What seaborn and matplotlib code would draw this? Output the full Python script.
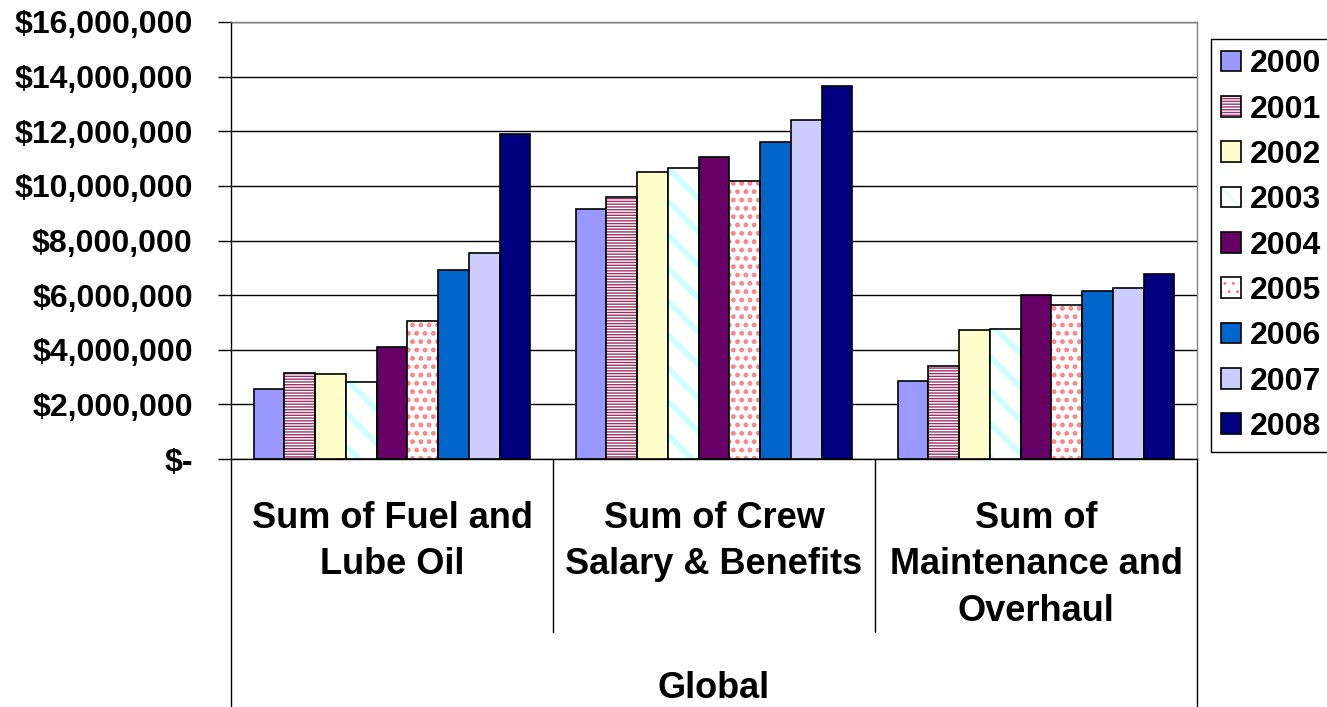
import matplotlib
matplotlib.use("Agg")
import matplotlib.pyplot as plt
import seaborn as sns
import pandas as pd
from matplotlib.ticker import FuncFormatter
from matplotlib.patches import Rectangle
from matplotlib.lines import Line2D
from matplotlib.legend_handler import HandlerTuple
from matplotlib import transforms

# ============================================================
#  Data
# ============================================================

categories = ["Sum of Fuel and\nLube Oil",
              "Sum of Crew\nSalary & Benefits",
              "Sum of\nMaintenance and\nOverhaul"]
outer_label = "Global"
years = ["2000", "2001", "2002", "2003", "2004", "2005", "2006", "2007", "2008"]

fuel_lube_oil = [2.55e6, 3.16e6, 3.11e6, 2.82e6, 4.11e6, 5.04e6, 6.92e6, 7.56e6, 11.90e6]
crew_salary = [9.17e6, 9.61e6, 10.49e6, 10.66e6, 11.05e6, 10.17e6, 11.61e6, 12.43e6, 13.66e6]
maintenance = [2.84e6, 3.39e6, 4.72e6, 4.77e6, 5.99e6, 5.65e6, 6.16e6, 6.27e6, 6.77e6]

y_ticks = [0, 2e6, 4e6, 6e6, 8e6, 10e6, 12e6, 14e6, 16e6]

# Excel-style fills: (colour, hatch) -- hatched fills draw the pattern colour on white
year_fills = [("#9999FF", None), ("#993366", "------"), ("#FFFFCC", None),
              ("#CCFFFF", "\\"), ("#660066", None), ("#FF8080", ".."),
              ("#0066CC", None), ("#CCCCFF", None), ("#000080", None)]
hatch_widths = {"------": 1.0, "\\": 4.0, "..": 2.2}

# ============================================================
#  Build long DataFrame
# ============================================================

rows = []
for cat, vals in zip(categories, [fuel_lube_oil, crew_salary, maintenance]):
    for yr, v in zip(years, vals):
        rows.append({"category": cat, "year": yr, "amount": v})
df = pd.DataFrame(rows)

# ============================================================
#  Plot
# ============================================================

sns.set_theme(style="white")
plt.rcParams["font.family"] = ["Liberation Sans", "DejaVu Sans"]
plt.rcParams["font.weight"] = "bold"
plt.rcParams["text.color"] = "black"
plt.rcParams["hatch.linewidth"] = 1.0

W, H = 1327, 707
fig = plt.figure(figsize=(W / 100, H / 100), dpi=100)
ax = fig.add_axes([231 / W, 1 - 459 / H, (1197 - 231) / W, (459 - 22) / H])

palette = {yr: c for yr, (c, _) in zip(years, year_fills)}
sns.barplot(data=df, x="category", y="amount", hue="year", palette=palette,
            width=0.86, errorbar=None, edgecolor="black", linewidth=1.2,
            saturation=1, legend=False, ax=ax, zorder=2)

edge_lw = 1.2
legend_handles = []
for cont, (col, hatch) in zip(ax.containers, year_fills):
    for p in cont.patches:
        if hatch:
            p.set_facecolor("white")
            p.set_edgecolor(col)
            p.set_linewidth(0)
            p.set_hatch(hatch)
            if hasattr(p, "set_hatch_linewidth"):
                p.set_hatch_linewidth(hatch_widths[hatch])
            ax.add_patch(Rectangle(p.get_xy(), p.get_width(), p.get_height(), fill=False,
                                   edgecolor="black", linewidth=edge_lw, zorder=3))
    if hatch:
        h1 = Rectangle((0, 0), 1, 1, facecolor="white", edgecolor=col, linewidth=0, hatch=hatch)
        if hasattr(h1, "set_hatch_linewidth"):
            h1.set_hatch_linewidth(hatch_widths[hatch])
        h2 = Rectangle((0, 0), 1, 1, fill=False, edgecolor="black", linewidth=edge_lw)
        legend_handles.append((h1, h2))
    else:
        legend_handles.append(Rectangle((0, 0), 1, 1, facecolor=col, edgecolor="black",
                                        linewidth=edge_lw))

# axes styling
ax.set_ylim(0, 16e6)
ax.set_xlim(-0.5, 2.5)
ax.set_yticks(y_ticks)
ax.yaxis.set_major_formatter(FuncFormatter(lambda v, _: "$-" if v == 0 else f"${v:,.0f}"))
ax.yaxis.grid(True, color="black", linewidth=1)
ax.set_axisbelow(True)
ax.tick_params(axis="y", length=9.5, width=1, pad=18, labelsize=23, colors="black",
               left=True, direction="out")
ax.tick_params(axis="x", bottom=False, labelbottom=False)
ax.set_xlabel("")
ax.set_ylabel("")
for lab in ax.get_yticklabels():
    lab.set_fontweight("bold")
for s in ["left", "bottom"]:
    ax.spines[s].set_color("black")
    ax.spines[s].set_linewidth(1)
for s in ["top", "right"]:
    ax.spines[s].set_color("#808080")
    ax.spines[s].set_linewidth(1)

# multi-level category axis below the plot
ax_h = 459 - 22
blend = transforms.blended_transform_factory(ax.transData, ax.transAxes)
fig_bottom = -(H - 459) / ax_h
inner_bottom = -(632 - 459) / ax_h
for xb in [0.5, 1.5]:
    ax.add_line(Line2D([xb, xb], [0, inner_bottom], transform=blend, color="black",
                       linewidth=1, clip_on=False))
for xb in [0, 1]:
    ax.add_line(Line2D([xb, xb], [0, fig_bottom], transform=ax.transAxes, color="black",
                       linewidth=1, clip_on=False))

first_base = -(528 - 459) / ax_h
line_step = 46.5 / ax_h
for i, cat in enumerate(categories):
    for j, line in enumerate(cat.split("\n")):
        ax.text(i, first_base - j * line_step, line, transform=blend, ha="center",
                va="baseline", fontsize=26, fontweight="bold", color="black")
ax.text(0.5, -(698 - 459) / ax_h, outer_label, transform=ax.transAxes, ha="center",
        va="baseline", fontsize=26, fontweight="bold", color="black")

# legend
leg = ax.legend(legend_handles, years, loc="upper left",
                bbox_to_anchor=(1211 / W, 1 - 39 / H), bbox_transform=fig.transFigure,
                handler_map={tuple: HandlerTuple(ndivide=1, pad=0)},
                frameon=True, fancybox=False, framealpha=1, edgecolor="black",
                prop={"size": 23, "weight": "bold"}, labelcolor="black",
                handlelength=0.63, handleheight=0.63, handletextpad=0.28,
                labelspacing=0.48, borderpad=0.32, borderaxespad=0)
leg.get_frame().set_linewidth(1)

fig.savefig("out.png", dpi=100)
